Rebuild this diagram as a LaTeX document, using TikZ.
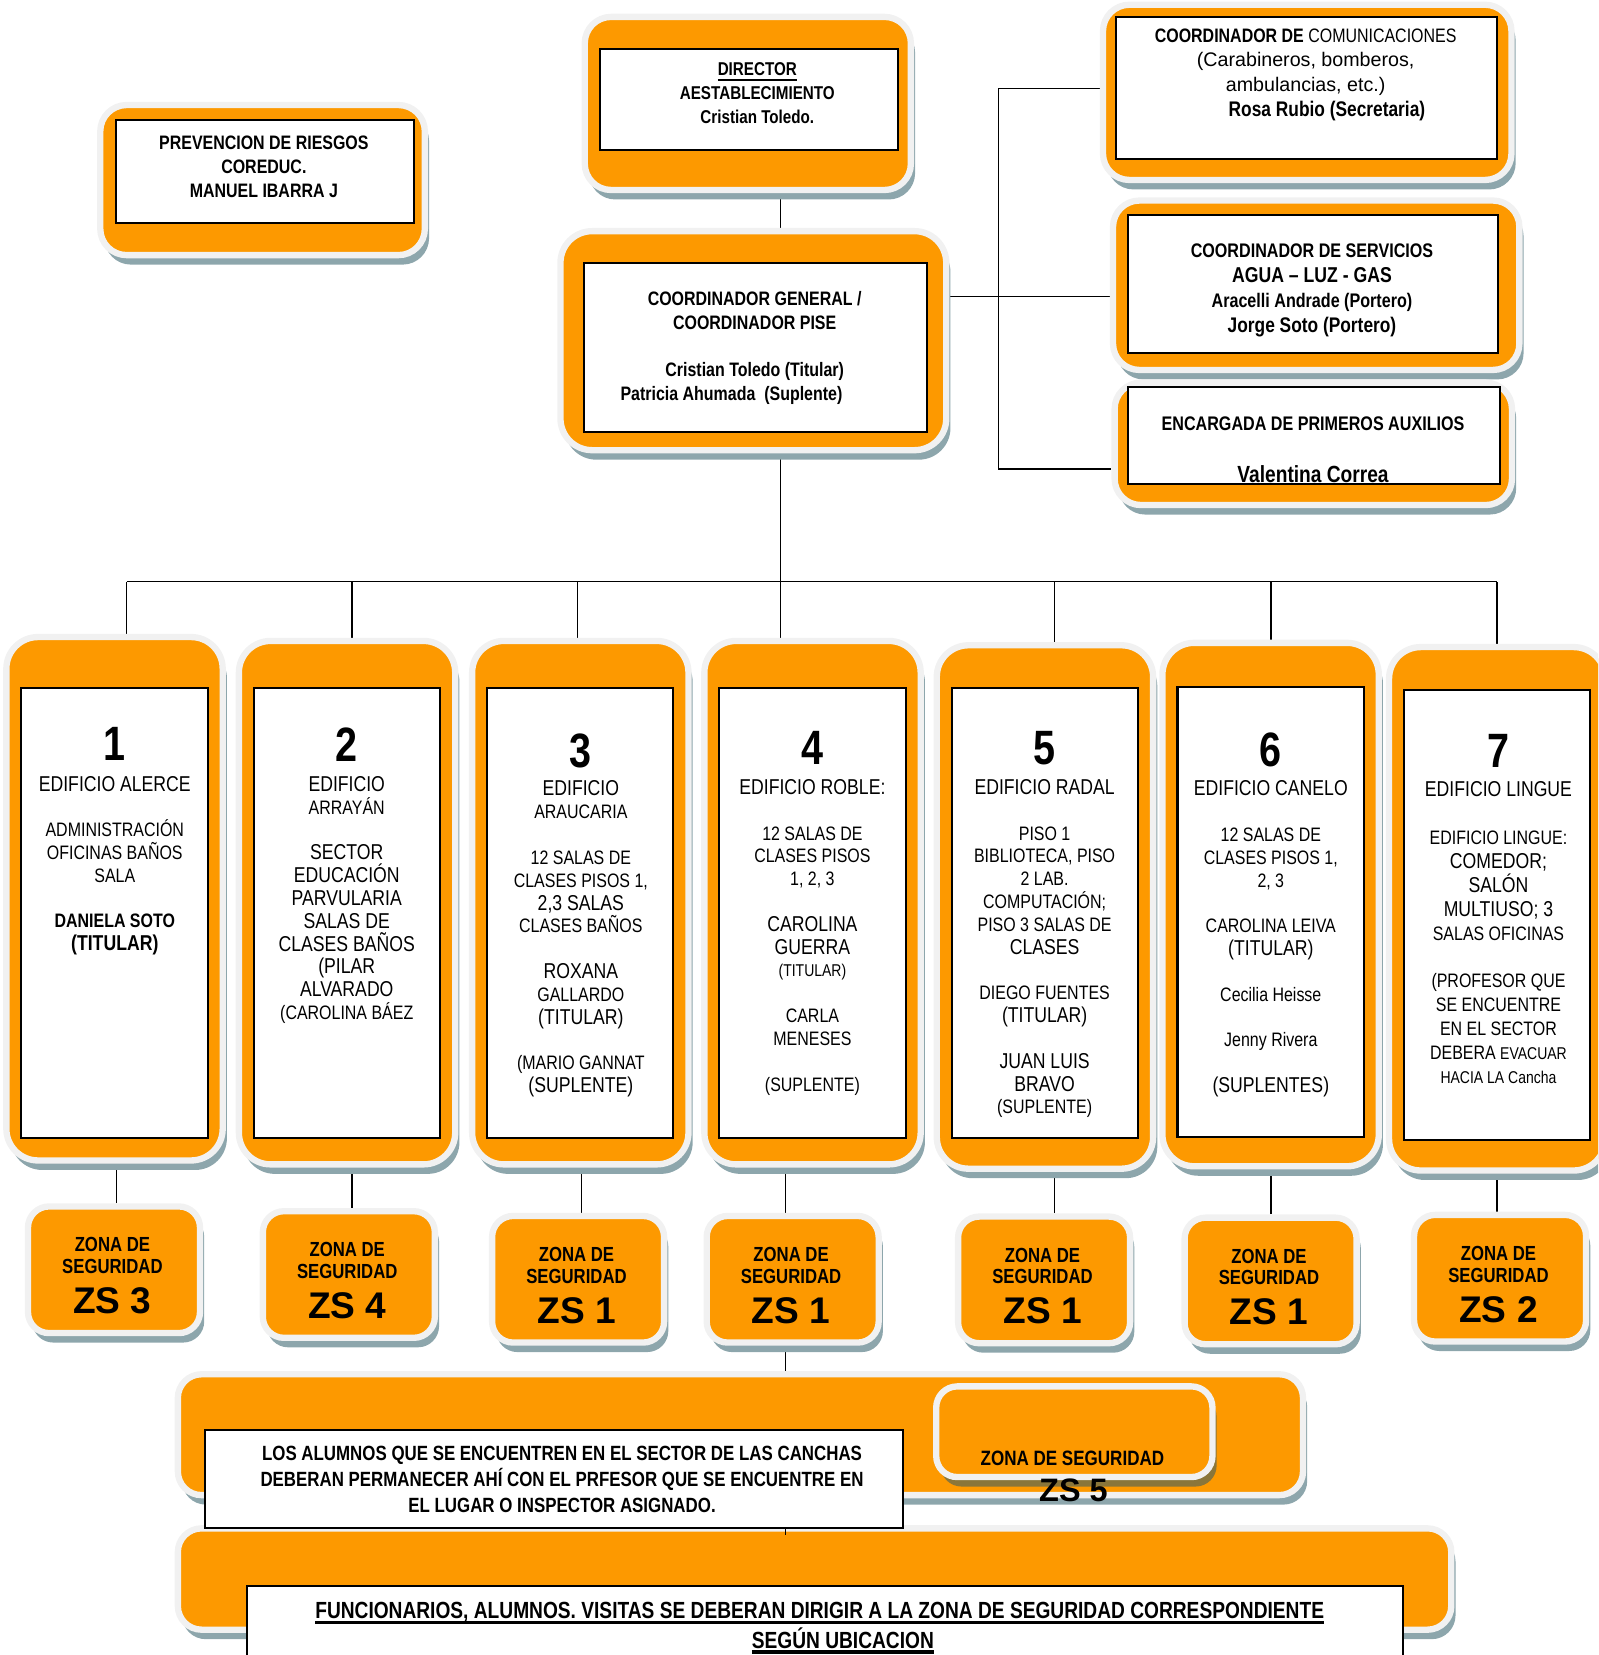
\documentclass[tikz,border=0pt]{standalone}
\usepackage{fontspec}
\setmainfont{Liberation Sans}[FakeStretch=0.82]
\newfontfamily\ancha{Liberation Sans}
\usetikzlibrary{positioning, calc, fit, shadows, backgrounds}

\definecolor{naranja}{RGB}{253,153,0}
\definecolor{claro}{RGB}{241,241,241}
\definecolor{sombra}{RGB}{141,166,172}
\definecolor{oliva}{RGB}{138,118,58}

\newcommand{\normaltam}{\fontsize{10.5}{12.3}\selectfont}
\newcommand{\grantam}{\fontsize{11.6}{12.3}\selectfont}
\newcommand{\peqtam}{\fontsize{9.2}{12.3}\selectfont}
\newcommand{\numtam}{\bfseries\fontsize{26}{28}\selectfont}
\newcommand{\blanco}{12.3pt}
\newcommand{\subr}[2][1.8pt]{\leavevmode\setbox0\hbox{#2}\rlap{\rule[-3pt]{\wd0}{#1}}\box0}

\tikzset{
  tarjeta/.style={draw=claro, line width=0.12cm, fill=naranja, inner sep=0pt,
    rounded corners=0.5cm,
    drop shadow={shadow xshift=0.08cm, shadow yshift=-0.18cm, fill=#1, opacity=1}},
  tarjeta/.default=sombra,
  caja/.style={draw=black, line width=1.1pt, fill=white, inner sep=0pt},
  linea/.style={draw=black, line width=0.8pt},
  txtcab/.style={font=\bfseries\fontsize{10.5}{12.9}\selectfont, align=center, inner sep=0pt, anchor=north},
  txtedif/.style={font=\normaltam, align=center, inner sep=0pt, anchor=north},
  txtzona/.style={font=\bfseries\fontsize{11}{11.7}\selectfont, align=center, inner sep=0pt},
  txtzs/.style={font=\ancha\bfseries\fontsize{20}{24}\selectfont, inner sep=0pt},
}

\begin{document}
\begin{tikzpicture}[x=0.02cm, y=-0.02cm]
\path[use as bounding box] (0,0) rectangle (1514,1568);
\clip (0,0) rectangle (1514,1568);

% cabecera
\node[tarjeta, fit={(95,99.5) (402.5,241.7)}] (prevencion) {};
\node[caja, fit={(110,114) (392,211)}] (prevCaja) {};
\node[txtcab] (prevTxt) at (250,128.5) {PREVENCION DE RIESGOS\\COREDUC.\\MANUEL IBARRA J};

\node[tarjeta, fit={(554,16) (863,180)}] (director) {};
\node[caja, fit={(568,46) (850.5,142)}] (dirCaja) {};
\node[txtcab, font=\bfseries\fontsize{10}{13}\selectfont] (dirTxt) at (717.5,58.7)
  {\subr[1pt]{DIRECTOR}\\AESTABLECIMIENTO\\Cristian Toledo.};

\node[tarjeta, rounded corners=0.6cm, fit={(531,219) (896.5,426.5)}] (coordGen) {};
\node[caja, fit={(553,249) (878.5,409)}] (genCaja) {};
\node[txtcab] (genTxt) at (715,275.4)
  {COORDINADOR GENERAL /\\COORDINADOR PISE\\[12.9pt]Cristian Toledo (Titular)\\Patricia Ahumada~ (Suplente)\hspace*{25pt}};

% coordinadores a la derecha
\node[tarjeta, fit={(1045,4.5) (1432,170.5)}] (coordCom) {};
\node[caja, fit={(1057,16) (1418.5,151)}] (comCaja) {};
\node[txtcab, font=\bfseries\fontsize{10.5}{13.3}\selectfont] (comTxt) at (1237,26.6)
  {COORDINADOR DE {\mdseries COMUNICACIONES}\\
   {\ancha\mdseries\fontsize{10.6}{13.3}\selectfont (Carabineros, bomberos,}\\
   {\ancha\mdseries\fontsize{10.6}{13.3}\selectfont ambulancias, etc.)}\\
   \hspace*{23pt}{\fontsize{11.4}{13.3}\selectfont Rosa Rubio (Secretaria)}};

\node[tarjeta, fit={(1054.5,190) (1439.5,350.5)}] (coordServ) {};
\node[caja, fit={(1069,204) (1419.5,334)}] (servCaja) {};
\node[txtcab, font=\bfseries\fontsize{10.6}{13.5}\selectfont] (servTxt) at (1243,230.2)
  {COORDINADOR DE SERVICIOS\\{\fontsize{11.6}{13.5}\selectfont AGUA – LUZ - GAS}\\
   Aracelli Andrade (Portero)\\{\fontsize{11.4}{13.5}\selectfont Jorge Soto (Portero)}};

\node[tarjeta, fit={(1056,362.5) (1432.5,478.5)}] (primAux) {};
\node[caja, fit={(1069,367) (1421,458.6)}] (auxCaja) {};
\node[txtcab, font=\bfseries\fontsize{10.6}{13}\selectfont] (auxTxt) at (1244,394.4)
  {ENCARGADA DE PRIMEROS AUXILIOS\\[15pt]{\fontsize{12.6}{13}\selectfont Valentina Correa}};

% edificios
\foreach \i/\x/\y/\yc in {1/108.5/851.5/864.9, 2/328.8/855.2/864.9, 3/549.8/855.2/864.9,
    4/769.8/855.2/864.9, 5/990/859.3/864.9, 6/1203.8/857/864, 7/1418.5/861/866.9} {
  \node[tarjeta, rounded corners=0.6cm, minimum width=4.1cm, minimum height=9.92cm] (edif\i) at (\x,\y) {};
  \node[caja, minimum width=3.53cm, minimum height=8.53cm] (caja\i) at (\x,\yc) {};
}

\node[txtedif] (texto1) at (108.75,689) {{\numtam 1}\\[4pt]
  {\grantam EDIFICIO ALERCE}\\[\blanco]
  ADMINISTRACIÓN\\OFICINAS BAÑOS\\SALA\\[\blanco]
  \textbf{DANIELA SOTO}\\{\bfseries\grantam (TITULAR)}};

\node[txtedif] (texto2) at (328.5,689) {{\numtam 2}\\[4pt]
  {\grantam EDIFICIO}\\ARRAYÁN\\[\blanco]
  {\grantam SECTOR}\\{\grantam EDUCACIÓN}\\{\grantam PARVULARIA}\\{\grantam SALAS DE}\\
  {\grantam CLASES BAÑOS}\\{\grantam (PILAR}\\{\grantam ALVARADO}\\(CAROLINA BÁEZ};

\node[txtedif] (texto3) at (550.3,695) {{\numtam 3}\\[3pt]
  {\grantam EDIFICIO}\\ARAUCARIA\\[\blanco]
  12 SALAS DE\\CLASES PISOS 1,\\{\grantam 2,3 SALAS}\\CLASES BAÑOS\\[\blanco]
  {\grantam ROXANA}\\GALLARDO\\{\grantam (TITULAR)}\\[\blanco]
  (MARIO GANNAT\\{\grantam (SUPLENTE)}};

\node[txtedif] (texto4) at (769.7,692.3) {{\numtam 4}\\[4pt]
  {\grantam EDIFICIO ROBLE:}\\[\blanco]
  12 SALAS DE\\CLASES PISOS\\1, 2, 3\\[\blanco]
  {\grantam CAROLINA}\\{\grantam GUERRA}\\{\peqtam (TITULAR)}\\[\blanco]
  CARLA\\MENESES\\[\blanco]
  (SUPLENTE)};

\node[txtedif] (texto5) at (989.7,692.3) {{\numtam 5}\\[4pt]
  {\grantam EDIFICIO RADAL}\\[\blanco]
  PISO 1\\BIBLIOTECA, PISO\\2 LAB.\\COMPUTACIÓN;\\PISO 3 SALAS DE\\{\grantam CLASES}\\[\blanco]
  DIEGO FUENTES\\{\grantam (TITULAR)}\\[\blanco]
  {\grantam JUAN LUIS}\\{\grantam BRAVO}\\(SUPLENTE)};

\node[txtedif] (texto6) at (1204,694) {{\numtam 6}\\[3.5pt]
  {\grantam EDIFICIO CANELO}\\[\blanco]
  12 SALAS DE\\CLASES PISOS 1,\\2, 3\\[\blanco]
  CAROLINA LEIVA\\{\grantam (TITULAR)}\\[\blanco]
  Cecilia Heisse\\[\blanco]Jenny Rivera\\[\blanco]
  {\grantam (SUPLENTES)}};

\node[txtedif, font=\fontsize{10.5}{12.9}\selectfont] (texto7) at (1419.7,695) {{\numtam 7}\\[3pt]
  {\grantam EDIFICIO LINGUE}\\[12.9pt]
  EDIFICIO LINGUE:\\{\grantam COMEDOR;}\\{\grantam SALÓN}\\{\grantam MULTIUSO; 3}\\SALAS OFICINAS\\[12.9pt]
  (PROFESOR QUE\\SE ENCUENTRE\\EN EL SECTOR\\DEBERA {\peqtam EVACUAR}\\{\peqtam HACIA LA Cancha}};

% zonas de seguridad
\foreach \i/\x/\y/\n in {1/108/1203/3, 2/330.5/1207.5/4, 3/547.7/1212/1, 4/751/1212/1,
    5/989.2/1212.6/1, 6/1203.8/1213.6/1, 7/1421.2/1211/2} {
  \node[tarjeta, rounded corners=0.4cm, minimum width=3.26cm, minimum height=2.4cm] (zona\i) at (\x,\y) {};
  \node[txtzona] (zlab\i) at ($(zona\i)+(-1.5,-13.3)$) {ZONA DE\\SEGURIDAD};
  \node[txtzs] (zs\i) at ($(zona\i)+(-1.5,29.5)$) {ZS \n};
}

% canchas y aviso final
\node[tarjeta, rounded corners=0.45cm, fit={(168.5,1302) (1234.5,1416.5)}] (canchas) {};
\node[tarjeta, rounded corners=0.45cm, fit={(168.5,1448) (1375,1544)}] (final) {};
\node[caja, fit={(194.3,1354.8) (855.8,1448)}] (cancCaja) {};
\node[tarjeta=oliva, rounded corners=0.4cm, fit={(887,1313.5) (1148.7,1399.4)}] (zona8) {};
\node[caja, fit={(234.4,1502.6) (1329.3,1620)}] (finCaja) {};

\node[txtcab, font=\bfseries\fontsize{11.1}{13.9}\selectfont] (cancTxt) at (532.5,1369.9)
  {LOS ALUMNOS QUE SE ENCUENTREN EN EL SECTOR DE LAS CANCHAS\\
   DEBERAN PERMANECER AHÍ CON EL PRFESOR QUE SE ENCUENTRE EN\\
   EL LUGAR O INSPECTOR ASIGNADO.};
\node[txtzona, font=\bfseries\fontsize{11.2}{12}\selectfont] (zlab8) at (1016,1381.7) {ZONA DE SEGURIDAD};
\node[txtzs, font=\ancha\bfseries\fontsize{17.5}{20}\selectfont] (zs8) at (1017,1411.7) {ZS 5};
\node[txtcab, font=\bfseries\fontsize{12.6}{15.8}\selectfont] (finTxt) at (776.6,1518)
  {\subr{FUNCIONARIOS, ALUMNOS. VISITAS SE DEBERAN DIRIGIR A LA ZONA DE SEGURIDAD CORRESPONDIENTE}\\
   \hspace*{25pt}\subr{SEGÚN UBICACION}};

% conectores
\begin{scope}[on background layer]
  \coordinate (bus) at (739.6,551);
  \foreach \i/\dx in {1/11.4,2/4.7,3/-2.6,4/-30.2,5/9,6/0.2,7/0} {
    \path ($(edif\i.north)+(\dx,0)$) coordinate (gancho\i);
    \draw[linea] (gancho\i) -- (gancho\i |- bus);
  }
  \draw[linea] (gancho1 |- bus) -- (gancho7 |- bus);
  \draw[linea] (coordGen.south -| bus) -- (bus);
  \draw[linea] (director.south -| bus) -- (coordGen.north -| bus);

  \foreach \i/\dx in {1/2.2,2/3,3/3.3,4/-6.6,5/9.8,6/0.2,7/-2.7} {
    \path ($(zona\i.north)+(\dx,0)$) coordinate (enlace\i);
    \draw[linea] (enlace\i) -- (enlace\i |- edif\i.south);
  }
  \draw[linea] (enlace4 |- zona4.south) -- (enlace4 |- canchas.north);

  \coordinate (corchete) at (946,281);
  \path ($(coordCom.west)+(0,-3.8)$) coordinate (cCom);
  \path ($(coordServ.west)+(0,10.8)$) coordinate (cServ);
  \path ($(primAux.west)+(0,24)$) coordinate (cAux);
  \draw[linea] (cCom) -- (cCom -| corchete) -- (cAux -| corchete) -- (cAux);
  \draw[linea] (cServ -| coordGen.east) -- (cServ);
\end{scope}
\draw[linea] (cancCaja.south -| enlace4) -- ++(0,5);
\end{tikzpicture}
\end{document}
